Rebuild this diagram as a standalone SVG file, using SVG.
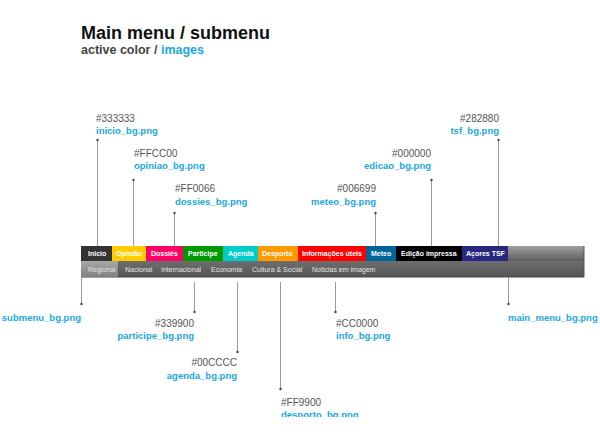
<svg xmlns="http://www.w3.org/2000/svg" width="600" height="436" viewBox="0 0 600 436">
<defs>
<linearGradient id="gMain" x1="0" y1="0" x2="0" y2="1"><stop offset="0" stop-color="#a0a0a0"/><stop offset="1" stop-color="#5e5e5e"/></linearGradient>
<linearGradient id="gSub" x1="0" y1="0" x2="0" y2="1"><stop offset="0" stop-color="#6e6e6e"/><stop offset="1" stop-color="#555"/></linearGradient>
<linearGradient id="gReg" x1="0" y1="0" x2="0" y2="1"><stop offset="0" stop-color="#a8a8a8"/><stop offset="1" stop-color="#808080"/></linearGradient>
<marker id="dot" markerWidth="4" markerHeight="4" refX="2" refY="2" markerUnits="userSpaceOnUse"><circle cx="2" cy="2" r="1.2" fill="#444"/></marker>
<clipPath id="clipBottom"><rect x="0" y="0" width="600" height="417"/></clipPath>
</defs>
<style>
.hex{font-family:"Liberation Sans",Arial,sans-serif;font-size:10px;fill:#555}
.file{font-family:"Liberation Sans",Arial,sans-serif;font-size:9.5px;font-weight:bold;fill:#1aa7e0}
.mi{font-family:"Liberation Sans",Arial,sans-serif;font-size:7px;font-weight:bold;fill:#fff}
.si{font-family:"Liberation Sans",Arial,sans-serif;font-size:7px;fill:#e4e4e4}
.ln{stroke:#999;stroke-width:1;fill:none;marker-end:url(#dot)}
.r{text-anchor:end}
</style>
<rect width="600" height="436" fill="#fff"/>
<g id="title">
<text x="81" y="39" font-family="Liberation Sans,Arial,sans-serif" font-size="18" font-weight="bold" fill="#111">Main menu / submenu</text>
<text x="81" y="54" font-family="Liberation Sans,Arial,sans-serif" font-size="12.5" font-weight="bold" fill="#444">active color / <tspan fill="#1aa7e0">images</tspan></text>
</g>
<g id="menubar">
<rect x="81" y="246" width="503" height="15" fill="url(#gMain)"/>
<rect x="81" y="261" width="503" height="16" fill="url(#gSub)"/>
<line x1="81" y1="277" x2="584" y2="277" stroke="#444" stroke-width="1"/>
<line x1="584" y1="246" x2="584" y2="277" stroke="#555" stroke-width="1"/>
</g>
<g id="main-items">
<rect x="81" y="246" width="31" height="15" fill="#333333"/><text class="mi" x="88" y="256">Inicio</text>
<rect x="112" y="246" width="34" height="15" fill="#ffcc00"/><text class="mi" x="116" y="256">Opinião</text>
<rect x="146" y="246" width="37" height="15" fill="#ff0066"/><text class="mi" x="151" y="256">Dossiês</text>
<rect x="183" y="246" width="40" height="15" fill="#009900"/><text class="mi" x="188" y="256">Participe</text>
<rect x="223" y="246" width="35" height="15" fill="#00cccc"/><text class="mi" x="228" y="256">Agenda</text>
<rect x="258" y="246" width="40" height="15" fill="#ff9900"/><text class="mi" x="262" y="256">Desporto</text>
<rect x="298" y="246" width="68" height="15" fill="#ff0000"/><text class="mi" x="302" y="256">Informações úteis</text>
<rect x="366" y="246" width="30" height="15" fill="#006699"/><text class="mi" x="371" y="256">Meteo</text>
<rect x="396" y="246" width="66" height="15" fill="#000000"/><text class="mi" x="401" y="256">Edição impressa</text>
<rect x="462" y="246" width="46" height="15" fill="#282880"/><text class="mi" x="466" y="256">Açores TSF</text>
</g>
<g id="sub-items">
<rect x="81" y="261" width="37" height="16" fill="url(#gReg)"/>
<text class="si" x="88" y="272">Regional</text>
<text class="si" x="125" y="272">Nacional</text>
<text class="si" x="161" y="272">Internacional</text>
<text class="si" x="211" y="272">Economia</text>
<text class="si" x="252" y="272">Cultura &amp; Social</text>
<text class="si" x="312" y="272">Noticias em imagem</text>
</g>
<g id="connectors">
<line class="ln" x1="97.5" y1="246" x2="97.5" y2="140"/>
<line class="ln" x1="133.5" y1="246" x2="133.5" y2="180"/>
<line class="ln" x1="174.5" y1="246" x2="174.5" y2="213"/>
<line class="ln" x1="375.5" y1="246" x2="375.5" y2="213"/>
<line class="ln" x1="431.5" y1="246" x2="431.5" y2="180"/>
<line class="ln" x1="498.5" y1="246" x2="498.5" y2="140"/>
<line class="ln" x1="81.5" y1="277" x2="81.5" y2="304"/>
<line class="ln" x1="194.5" y1="282" x2="194.5" y2="312"/>
<line class="ln" x1="237.5" y1="282" x2="237.5" y2="352"/>
<line class="ln" x1="280.5" y1="282" x2="280.5" y2="389"/>
<line class="ln" x1="335.5" y1="282" x2="335.5" y2="312"/>
<line class="ln" x1="508.5" y1="277" x2="508.5" y2="304"/>
</g>
<g id="label-inicio"><text class="hex" x="96" y="122">#333333</text><text class="file" x="96" y="134">inicio_bg.png</text></g>
<g id="label-opiniao"><text class="hex" x="134" y="157">#FFCC00</text><text class="file" x="134" y="169">opiniao_bg.png</text></g>
<g id="label-dossies"><text class="hex" x="175" y="192">#FF0066</text><text class="file" x="175" y="205">dossies_bg.png</text></g>
<g id="label-meteo"><text class="hex r" x="376" y="192">#006699</text><text class="file r" x="376" y="205">meteo_bg.png</text></g>
<g id="label-edicao"><text class="hex r" x="431" y="157">#000000</text><text class="file r" x="431" y="169">edicao_bg.png</text></g>
<g id="label-tsf"><text class="hex r" x="499" y="122">#282880</text><text class="file r" x="499" y="134">tsf_bg.png</text></g>
<g id="label-submenu"><text class="file r" x="81" y="321">submenu_bg.png</text></g>
<g id="label-participe"><text class="hex r" x="194" y="327">#339900</text><text class="file r" x="194" y="339">participe_bg.png</text></g>
<g id="label-agenda"><text class="hex r" x="237" y="366">#00CCCC</text><text class="file r" x="237" y="379">agenda_bg.png</text></g>
<g id="label-desporto" clip-path="url(#clipBottom)"><text class="hex" x="281" y="406">#FF9900</text><text class="file" x="281" y="418">desporto_bg.png</text></g>
<g id="label-info"><text class="hex" x="336" y="327">#CC0000</text><text class="file" x="336" y="339">info_bg.png</text></g>
<g id="label-mainmenu"><text class="file" x="508" y="321">main_menu_bg.png</text></g>
</svg>
